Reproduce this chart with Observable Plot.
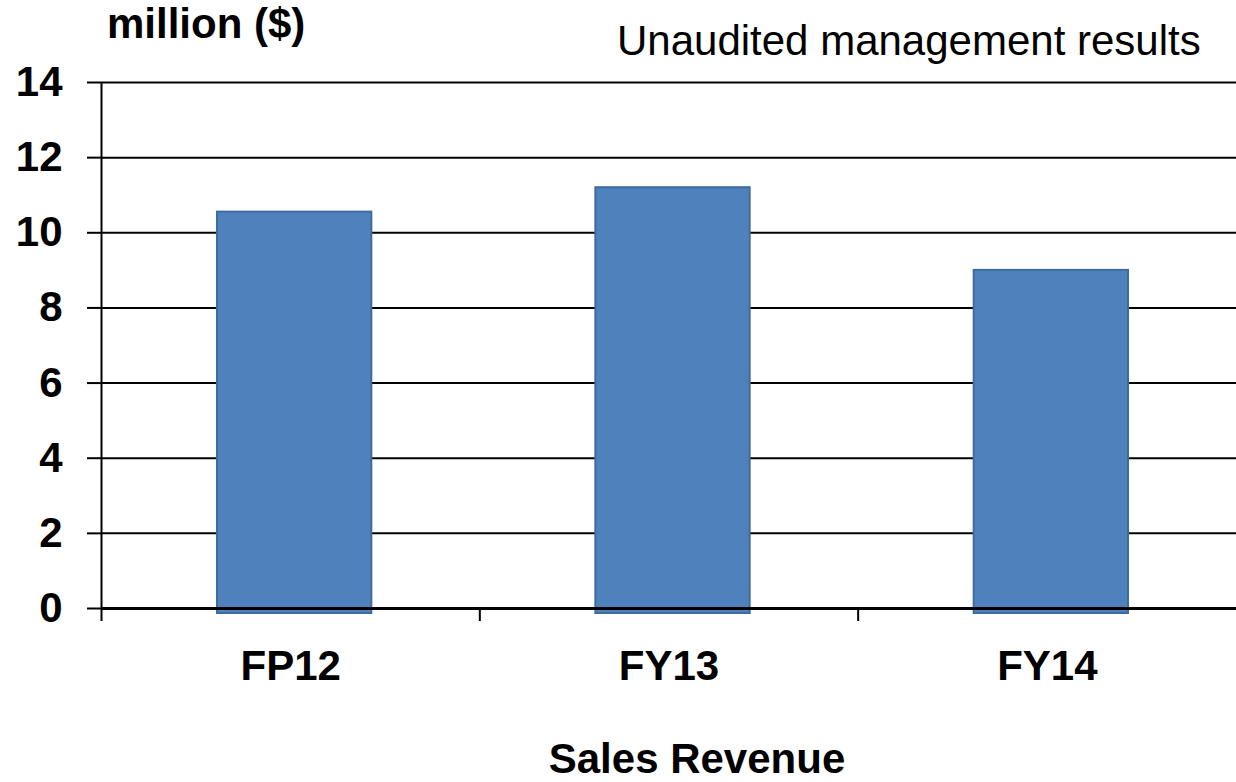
<!DOCTYPE html>
<html><head><meta charset="utf-8">
<script src="https://cdn.jsdelivr.net/npm/d3@7"></script>
<script src="https://cdn.jsdelivr.net/npm/@observablehq/plot@0.6"></script>
<style>
body{margin:0;background:#fff;}
#wrap{position:relative;width:1236px;height:782px;overflow:hidden;}
#wrap svg.overlay{position:absolute;left:0;top:0;pointer-events:none;}
</style></head><body><div id="wrap"></div>
<script>
const categories = ["FP12", "FY13", "FY14"];
const revenue = [10.55, 11.2, 9.0];
const yTicks = [0, 2, 4, 6, 8, 10, 12, 14];
const yUnit = "million ($)";
const note = "Unaudited management results";
const xTitle = "Sales Revenue";

const data = categories.map((c, i) => ({category: c, i, value: revenue[i]}));
const font = '"Liberation Sans", Arial, Helvetica, sans-serif';

const chart = Plot.plot({
  width: 1236, height: 782,
  marginTop: 82, marginBottom: 174, marginLeft: 101, marginRight: 0,
  style: {fontFamily: font, fontSize: "42px", fontWeight: "bold", color: "#000", background: "transparent", overflow: "visible"},
  x: {type: "linear", domain: [0, categories.length], label: null},
  y: {domain: [0, 14], label: null},
  marks: [
    Plot.gridY(yTicks, {stroke: "#000", strokeOpacity: 1, strokeWidth: 2}),
    Plot.rectY(data, {x1: d => d.i, x2: d => d.i + 1, y: "value", fill: "#4F81BD", stroke: "#3F6C9F", strokeWidth: 2, insetLeft: 116, insetRight: 108, insetBottom: -5}),
    Plot.ruleY([0], {stroke: "#000", strokeWidth: 3}),
    Plot.ruleX([0], {y1: 0, y2: 14, stroke: "#000", strokeWidth: 2}),
    Plot.axisY(yTicks, {tickSize: 14, tickPadding: 25, strokeWidth: 2, label: null}),
    Plot.axisX(d3.range(categories.length), {tickSize: 13, tickFormat: () => "", label: null, strokeWidth: 2}),
    Plot.axisX(data.map(d => d.i + 0.5), {tickSize: 0, tickPadding: 42, tickFormat: v => categories[Math.floor(v)], label: null})
  ]
});
const wrap = document.getElementById("wrap");
wrap.appendChild(chart);

const ov = d3.select(wrap).append("svg").attr("class", "overlay")
  .attr("width", 1236).attr("height", 782)
  .style("font-family", font).style("font-size", "42px");
ov.append("text").attr("x", 107).attr("y", 38).attr("font-weight", "bold").text(yUnit);
ov.append("text").attr("x", 617).attr("y", 55).text(note);
ov.append("text").attr("x", 697).attr("y", 773).attr("text-anchor", "middle").attr("font-weight", "bold").text(xTitle);
</script>
</body></html>
